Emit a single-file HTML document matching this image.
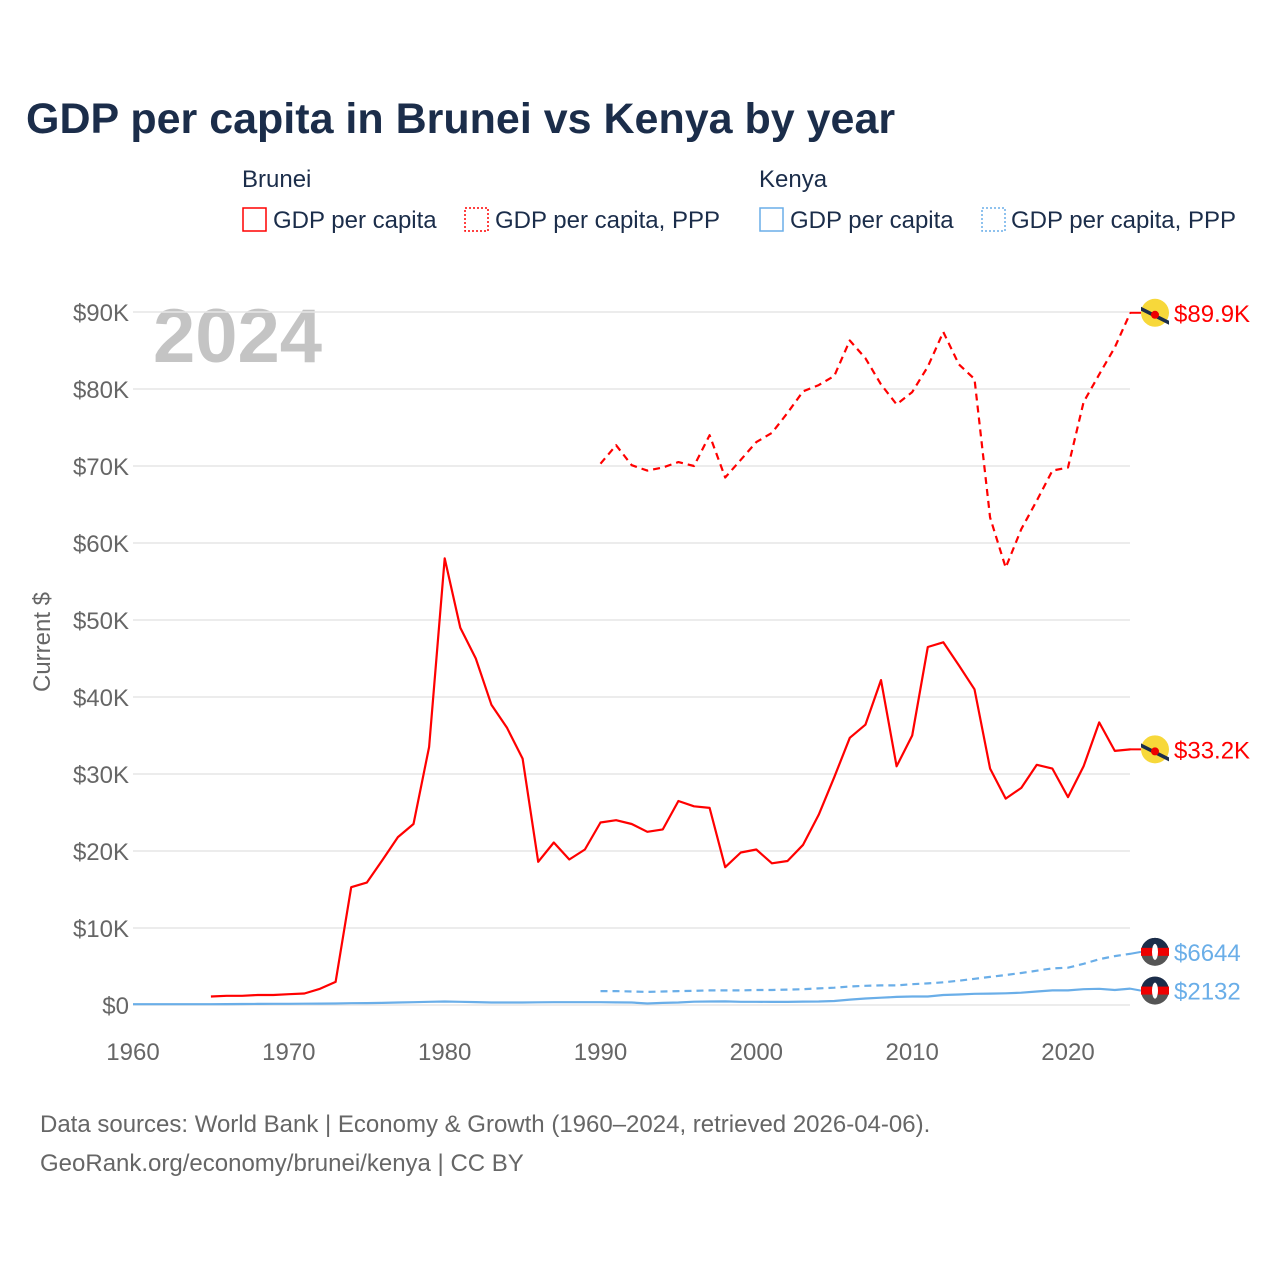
<!DOCTYPE html>
<html><head><meta charset="utf-8">
<style>
body{margin:0;background:#fff;font-family:"Liberation Sans",sans-serif;}
#wrap{position:relative;width:1280px;height:1280px;overflow:hidden;}
</style></head>
<body><div id="wrap">
<svg id="chart" width="1280" height="1280" xmlns="http://www.w3.org/2000/svg">
<text x="26" y="133" font-size="43" font-weight="bold" fill="#1b2d4a">GDP per capita in Brunei vs Kenya by year</text>
<g font-size="24" fill="#1b2d4a">
<text x="242" y="187">Brunei</text>
<rect x="243" y="208" width="23" height="23" fill="none" stroke="#f00" stroke-width="1.5"/>
<text x="273" y="228">GDP per capita</text>
<rect x="465" y="208" width="23" height="23" fill="none" stroke="#f00" stroke-width="1.5" stroke-dasharray="2,2"/>
<text x="495" y="228">GDP per capita, PPP</text>
<text x="759" y="187">Kenya</text>
<rect x="760" y="208" width="23" height="23" fill="none" stroke="#6aaee8" stroke-width="1.5"/>
<text x="790" y="228">GDP per capita</text>
<rect x="982" y="208" width="23" height="23" fill="none" stroke="#6aaee8" stroke-width="1.5" stroke-dasharray="2,2"/>
<text x="1011" y="228">GDP per capita, PPP</text>
</g>
<text x="153" y="362" font-size="76" font-weight="bold" fill="#c4c4c4">2024</text>
<text transform="translate(50,642) rotate(-90)" text-anchor="middle" font-size="24" fill="#666">Current $</text>
<g id="grid"></g><g id="series"></g><g id="ends"></g>
<text x="40" y="1132" font-size="24" fill="#666">Data sources: World Bank | Economy &amp; Growth (1960–2024, retrieved 2026-04-06).</text>
<text x="40" y="1171" font-size="24" fill="#666">GeoRank.org/economy/brunei/kenya | CC BY</text>
</svg></div>
<script>
const yTicks=[0,10,20,30,40,50,60,70,80,90];
const xTicks=[1960,1970,1980,1990,2000,2010,2020];
const bruneiStart=1965;
const bruneiGdp=[1.1,1.2,1.2,1.3,1.3,1.4,1.5,2.1,3.0,15.3,15.9,18.8,21.8,23.5,33.5,58,49,45,39,36,32,18.6,21.1,18.9,20.2,23.7,24,23.5,22.5,22.8,26.5,25.8,25.6,17.9,19.8,20.2,18.4,18.7,20.8,24.7,29.6,34.7,36.4,42.2,31,35,46.5,47.1,44.1,41,30.7,26.8,28.2,31.2,30.7,27,31,36.7,33,33.2];
const pppStart=1990;
const bruneiPpp=[70.3,72.7,70.1,69.4,69.8,70.5,70.0,74.0,68.5,70.8,73.1,74.3,76.9,79.7,80.5,81.7,86.3,84.0,80.6,78.0,79.6,82.9,87.4,83.2,81.3,63.3,56.8,61.8,65.5,69.4,69.8,78.3,81.9,85.4,89.9];
const kenyaStart=1960;
const kenyaGdp=[0.1,0.1,0.1,0.1,0.1,0.1,0.12,0.13,0.14,0.15,0.16,0.17,0.18,0.2,0.23,0.25,0.27,0.32,0.37,0.42,0.45,0.42,0.38,0.33,0.33,0.32,0.35,0.37,0.37,0.36,0.37,0.34,0.32,0.2,0.27,0.33,0.43,0.46,0.47,0.42,0.41,0.4,0.4,0.44,0.46,0.52,0.7,0.85,0.95,1.05,1.1,1.1,1.3,1.36,1.46,1.48,1.52,1.6,1.75,1.9,1.9,2.05,2.1,1.95,2.132];
const kenyaPpp=[1.8,1.8,1.75,1.7,1.75,1.8,1.85,1.9,1.9,1.9,1.95,1.95,2.0,2.05,2.15,2.25,2.4,2.5,2.55,2.55,2.7,2.8,2.95,3.15,3.4,3.65,3.9,4.15,4.45,4.75,4.85,5.35,5.95,6.35,6.644];
const endLabels=["$89.9K","$33.2K","$6644","$2132"];
const NS="http://www.w3.org/2000/svg";
const x=yr=>133+(yr-1960)*(1068-133)/60;
const y=v=>1005-v*(1005-312)/90;
function mk(t,a,p){const e=document.createElementNS(NS,t);for(const k in a)e.setAttribute(k,a[k]);p.appendChild(e);return e;}
const grid=document.getElementById('grid');
yTicks.forEach(v=>{
 const l=mk('line',{x1:133,x2:1130,y1:y(v),y2:y(v),stroke:'#e6e6e6','stroke-width':1.5},grid);
 
 
 const t=mk('text',{x:129,y:y(v)+9,'text-anchor':'end','font-size':24,fill:'#666'},grid);
 t.textContent=v===0?'$0':'$'+v+'K';
 
 
});
xTicks.forEach(v=>{
 const t=mk('text',{x:x(v),y:1060,'text-anchor':'middle','font-size':24,fill:'#666'},grid);
 t.textContent=v;
 
 
});
const ser=document.getElementById('series');
function line(arr,start,color,dash,name){
 const d=arr.map((v,i)=>(i?'L':'M')+x(start+i).toFixed(1)+','+y(v).toFixed(1)).join('');
 const p=mk('path',{d:d,fill:'none',stroke:color,'stroke-width':2.2,'stroke-dasharray':dash,'stroke-linejoin':'round'},ser);
 
 
}
line(kenyaGdp,kenyaStart,'#6aaee8','none','kenya-gdp-line');
line(kenyaPpp,pppStart,'#6aaee8','7,5','kenya-ppp-line');
line(bruneiGdp,bruneiStart,'#f00','none','brunei-gdp-line');
line(bruneiPpp,pppStart,'#f00','7,5','brunei-ppp-line');
const ends=document.getElementById('ends');
const lastVals=[bruneiPpp[bruneiPpp.length-1],bruneiGdp[bruneiGdp.length-1],kenyaPpp[kenyaPpp.length-1],kenyaGdp[kenyaGdp.length-1]];
const labelY=[y(lastVals[0]),y(lastVals[1]),y(lastVals[2])-2,y(lastVals[3])+2];
lastVals.forEach((v,i)=>{
 const isB=i<2, cy=labelY[i], cx=1155;
 const g=mk('g',{},ends);
 
 
 mk('line',{x1:1130,x2:1141,y1:y(v),y2:cy,stroke:isB?'#f00':'#6aaee8','stroke-width':2},g);
 if(isB){
  mk('circle',{cx:cx,cy:cy,r:14,fill:'#f7d83a'},g);
  mk('path',{d:`M${cx-14},${cy-6}L${cx+14},${cy+8}L${cx+14},${cy+12}L${cx-14},${cy-2}Z`,fill:'#1b2d4a'},g);
  mk('circle',{cx:cx,cy:cy+2,r:4,fill:'#e00'},g);
 }else{
  mk('circle',{cx:cx,cy:cy,r:14,fill:'#555'},g);
  mk('path',{d:`M${cx-14},${cy}A14,14 0 0 1 ${cx+14},${cy}Z`,fill:'#1b2d4a'},g);
  mk('rect',{x:cx-14,y:cy-4,width:28,height:8,fill:'#e00'},g);
  mk('ellipse',{cx:cx,cy:cy,rx:3,ry:8,fill:'#fff'},g);
 }
 const t=mk('text',{x:1174,y:cy+9,'font-size':24,fill:isB?'#f00':'#6aaee8'},ends);
 t.textContent=endLabels[i];
 
 
});
</script>
</body></html>
